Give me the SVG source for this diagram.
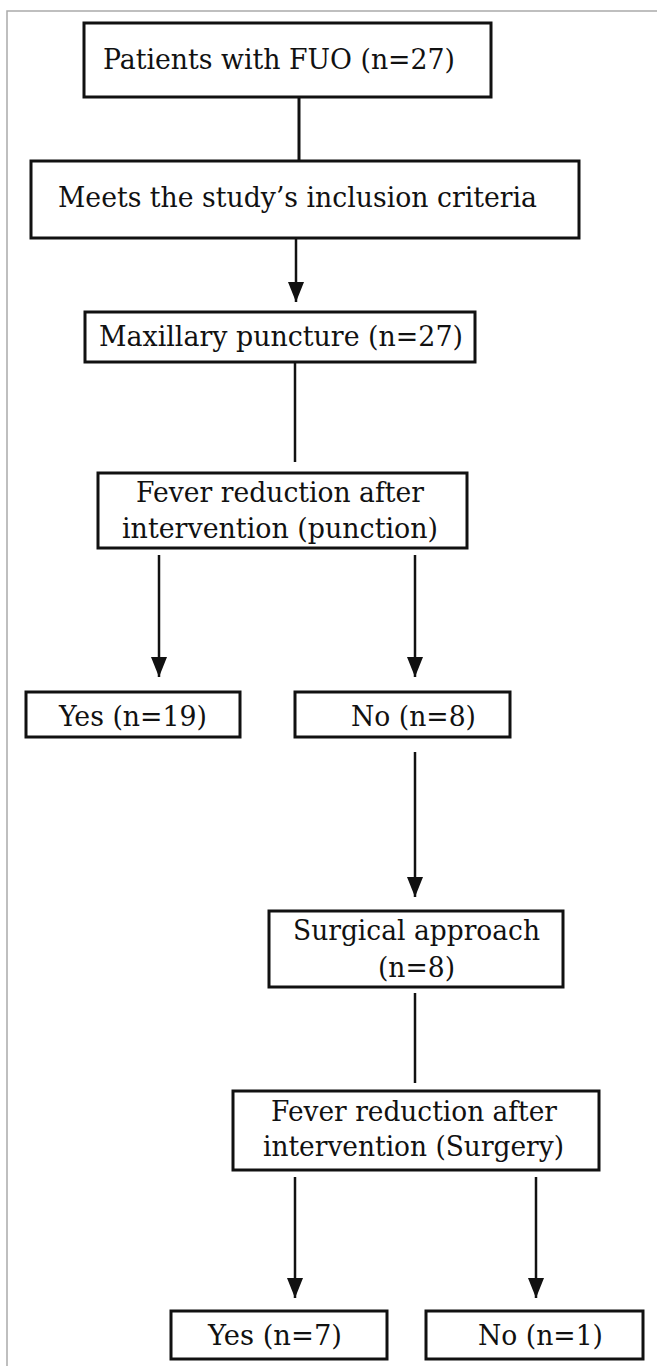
<svg xmlns="http://www.w3.org/2000/svg" width="657" height="1366" viewBox="0 0 657 1366">
<style>
.box{fill:#fff;stroke:#111;stroke-width:3}
.t{font-family:"DejaVu Serif","Liberation Serif",serif;font-size:28px;fill:#111}
.c{fill:none;stroke:#111;stroke-width:2.5}
</style>
<defs>
<marker id="ah" markerUnits="userSpaceOnUse" markerWidth="20" markerHeight="18" viewBox="0 0 20 18" refX="20" refY="9" orient="auto">
<path d="M0,1 L20,9 L0,17 Z" fill="#111"/>
</marker>
</defs>
<rect width="657" height="1366" fill="#fff"/>
<path d="M7,1366 V11 H657" fill="none" stroke="#aaa" stroke-width="1.5"/>
<g id="connectors">
<line class="c" x1="299" y1="97" x2="299" y2="161" style="stroke-width:3"/>
<line class="c" x1="296" y1="238" x2="296" y2="302" marker-end="url(#ah)"/>
<line class="c" x1="295" y1="362" x2="295" y2="462"/>
<line class="c" x1="159" y1="555" x2="159" y2="677" marker-end="url(#ah)"/>
<line class="c" x1="415" y1="555" x2="415" y2="677" marker-end="url(#ah)"/>
<line class="c" x1="415" y1="752" x2="415" y2="897" marker-end="url(#ah)"/>
<line class="c" x1="415" y1="993" x2="415" y2="1083"/>
<line class="c" x1="295" y1="1177" x2="295" y2="1298" marker-end="url(#ah)"/>
<line class="c" x1="536" y1="1177" x2="536" y2="1298" marker-end="url(#ah)"/>
</g>
<g id="n1"><rect class="box" x="84" y="23" width="407" height="74"/><text class="t" x="103" y="69" textLength="352" lengthAdjust="spacingAndGlyphs">Patients with FUO (n=27)</text></g>
<g id="n2"><rect class="box" x="31" y="161" width="548" height="77"/><text class="t" x="58" y="207" textLength="479" lengthAdjust="spacingAndGlyphs">Meets the study’s inclusion criteria</text></g>
<g id="n3"><rect class="box" x="85" y="312" width="390" height="50"/><text class="t" x="99" y="346" textLength="364" lengthAdjust="spacingAndGlyphs">Maxillary puncture (n=27)</text></g>
<g id="n4"><rect class="box" x="98" y="473" width="369" height="75"/><text class="t" x="136" y="502" textLength="288" lengthAdjust="spacingAndGlyphs">Fever reduction after</text><text class="t" x="122" y="538" textLength="316" lengthAdjust="spacingAndGlyphs">intervention (punction)</text></g>
<g id="n5"><rect class="box" x="26" y="692" width="214" height="45"/><text class="t" x="59" y="726" textLength="148" lengthAdjust="spacingAndGlyphs">Yes (n=19)</text></g>
<g id="n6"><rect class="box" x="295" y="692" width="215" height="45"/><text class="t" x="351" y="726" textLength="125" lengthAdjust="spacingAndGlyphs">No (n=8)</text></g>
<g id="n7"><rect class="box" x="269" y="911" width="294" height="76"/><text class="t" x="293" y="940" textLength="247" lengthAdjust="spacingAndGlyphs">Surgical approach</text><text class="t" x="378" y="977" textLength="77" lengthAdjust="spacingAndGlyphs">(n=8)</text></g>
<g id="n8"><rect class="box" x="233" y="1091" width="366" height="79"/><text class="t" x="271" y="1121" textLength="286" lengthAdjust="spacingAndGlyphs">Fever reduction after</text><text class="t" x="263" y="1156" textLength="301" lengthAdjust="spacingAndGlyphs">intervention (Surgery)</text></g>
<g id="n9"><rect class="box" x="171" y="1311" width="216" height="48"/><text class="t" x="208" y="1345" textLength="134" lengthAdjust="spacingAndGlyphs">Yes (n=7)</text></g>
<g id="n10"><rect class="box" x="426" y="1311" width="217" height="48"/><text class="t" x="478" y="1345" textLength="125" lengthAdjust="spacingAndGlyphs">No (n=1)</text></g>
</svg>
